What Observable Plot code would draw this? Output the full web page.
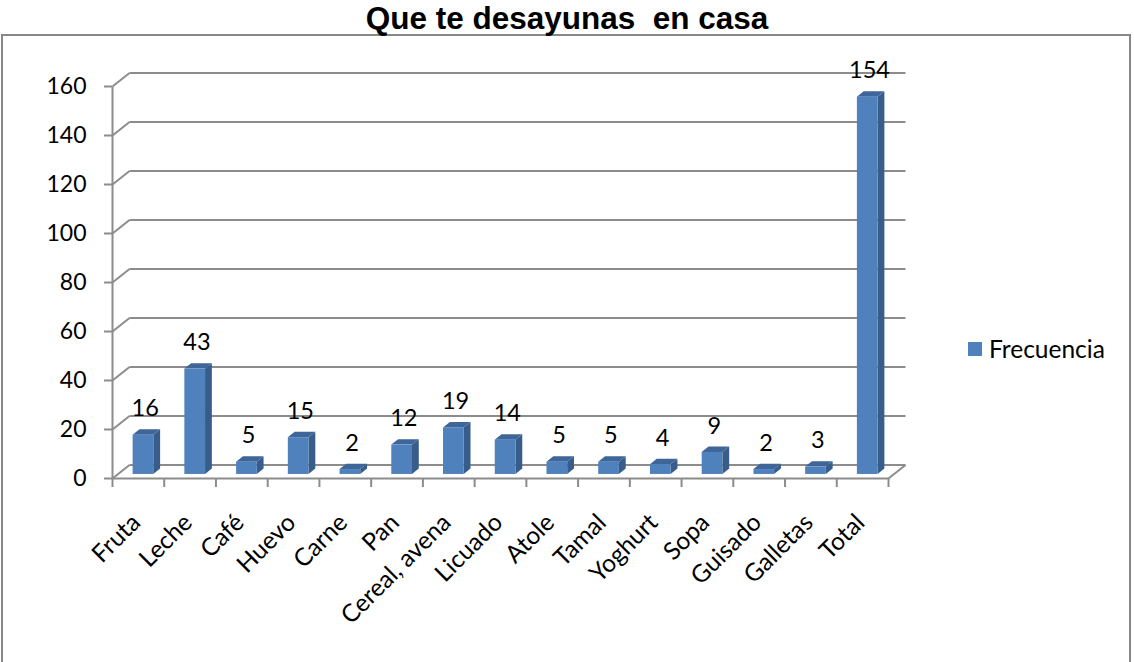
<!DOCTYPE html>
<html>
<head>
<meta charset="utf-8">
<script src="https://cdn.jsdelivr.net/npm/d3@7"></script>
<script src="https://cdn.jsdelivr.net/npm/@observablehq/plot@0.6"></script>
<style>
  body { margin: 0; background: #fff; }
  #wrap { position: relative; width: 1134px; height: 662px; overflow: hidden; background: #fff; }
  #title { position: absolute; top: 0; left: 0; width: 1134px; height: 35px; line-height: 35px; text-align: center;
           font: bold 31.5px "Liberation Sans", Arial, sans-serif; white-space: pre; color: #000; z-index: 2; }
  #border { position: absolute; top: 34px; left: 1px; width: 1130px; height: 700px; box-sizing: border-box;
            border: 2px solid #878787; pointer-events: none; }
  #chart { position: absolute; top: 35px; left: 0; }
  #legend { position: absolute; left: 968px; top: 334px; font: 24.5px Lato, sans-serif; color: #000; display: flex; align-items: center; }
  #legend .sw { width: 14px; height: 14px; background: #4F81BD; margin-right: 7px; }
</style>
</head>
<body>
<div id="wrap">
  <div id="border"></div>
  <div id="title">Que te desayunas  en casa</div>
  <div id="chart"></div>
  <div id="legend"><div class="sw"></div><span>Frecuencia</span></div>
</div>
<script>
const categories = ["Fruta","Leche","Café","Huevo","Carne","Pan","Cereal, avena","Licuado","Atole","Tamal","Yoghurt","Sopa","Guisado","Galletas","Total"];
const values = [16, 43, 5, 15, 2, 12, 19, 14, 5, 5, 4, 9, 2, 3, 154];
const yTicks = [0, 20, 40, 60, 80, 100, 120, 140, 160];
const seriesName = "Frecuencia";

const W = 1134, H = 627, mL = 112, mR = 246, mT = 51, mB = 184;
const n = categories.length;
const pxX = (W - mL - mR) / n;
const pxY = (H - mT - mB) / 160;
const DX = 17 / pxX, DY = 13.5 / pxY;   // floor depth in data units
const f = 0.3, bw = 0.4, bd = 0.4;
const gray = "#8c8c8c";
const front = "#4F81BD", sideC = "#385D8A", topC = "#3E6699";

const rows = categories.map((c, i) => ({
  c, v: values[i],
  xl: i + 0.5 - bw / 2 + f * DX,
  xr: i + 0.5 + bw / 2 + f * DX,
  yb: f * DY
}));
const side = rows.flatMap(r => [
  {c: r.c, x: r.xr, y1: r.yb, y2: r.yb + r.v},
  {c: r.c, x: r.xr + bd * DX, y1: r.yb + bd * DY, y2: r.yb + r.v + bd * DY}
]);
const topFace = rows.flatMap(r => [
  {c: r.c, y: r.yb + r.v, x1: r.xl, x2: r.xr},
  {c: r.c, y: r.yb + r.v + bd * DY, x1: r.xl + bd * DX, x2: r.xr + bd * DX}
]);
const gridLinks = yTicks.map(t => ({x1: DX, x2: n + DX, y1: t + DY, y2: t + DY}));
const diagLinks = yTicks.map(t => ({x1: 0, x2: DX, y1: t, y2: t + DY}));
const frameLinks = [
  {x1: 0, x2: n, y1: 0, y2: 0},
  {x1: n, x2: n + DX, y1: 0, y2: DY},
  {x1: 0, x2: 0, y1: 0, y2: 160}
];
const catLabels = categories.map((c, i) => ({c, x: i + 0.5, y: 0}));

const chart = Plot.plot({
  width: W, height: H,
  marginLeft: mL, marginRight: mR, marginTop: mT, marginBottom: mB,
  x: {type: "linear", domain: [0, n]},
  y: {type: "linear", domain: [0, 160]},
  style: {fontFamily: "Lato, sans-serif", fontSize: "23px", color: "#000", background: "transparent", overflow: "visible"},
  marks: [
    Plot.link(gridLinks, {x1: "x1", x2: "x2", y1: "y1", y2: "y2", stroke: gray, strokeWidth: 2}),
    Plot.link(diagLinks, {x1: "x1", x2: "x2", y1: "y1", y2: "y2", stroke: gray, strokeWidth: 2}),
    Plot.link(frameLinks, {x1: "x1", x2: "x2", y1: "y1", y2: "y2", stroke: gray, strokeWidth: 2}),
    Plot.axisY(yTicks, {tickSize: 8, tickPadding: 18, stroke: gray, strokeWidth: 2, fontSize: 23, label: null}),
    Plot.axisX(d3.range(n + 1), {tickSize: 9, tickFormat: () => "", stroke: gray, strokeWidth: 2, label: null}),
    // bars
    Plot.areaY(side, {x: "x", y1: "y1", y2: "y2", z: "c", fill: sideC}),
    Plot.areaX(topFace, {y: "y", x1: "x1", x2: "x2", z: "c", fill: topC}),
    Plot.rect(rows, {x1: "xl", x2: "xr", y1: "yb", y2: r => r.yb + r.v, fill: front}),
    // value labels
    Plot.text(rows, {x: r => (r.xl + r.xr) / 2 + bd * DX / 4, y: r => r.yb + r.v + bd * DY, text: r => String(r.v),
                     dy: -21, fontSize: 23.5, fill: "#000"}),
    // category labels
    Plot.text(catLabels, {x: "x", y: "y", text: "c", rotate: -45, textAnchor: "end",
                          lineAnchor: "middle", dx: -2, dy: 40, fontSize: 24.5, fill: "#000"})
  ]
});
document.getElementById("chart").appendChild(chart);
</script>
</body>
</html>
